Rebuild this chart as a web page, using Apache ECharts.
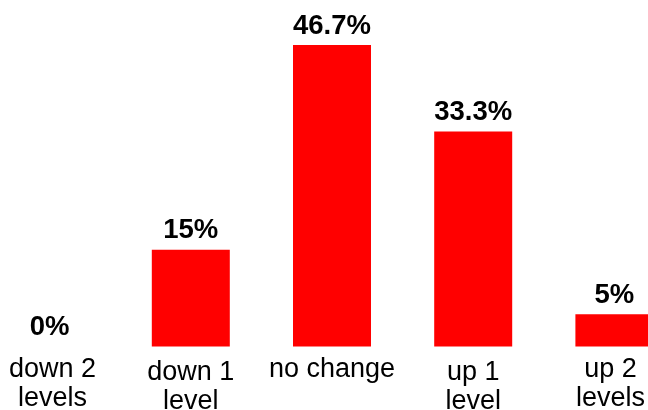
<!DOCTYPE html>
<html>
<head>
<meta charset="utf-8">
<script src="https://cdn.jsdelivr.net/npm/echarts@6/dist/echarts.min.js"></script>
<style>
html,body{margin:0;padding:0;background:#fff;}
#chart{width:648px;height:410px;}
</style>
</head>
<body>
<div id="chart"></div>
<script>
const categories = ['down 2\nlevels', 'down 1\nlevel', 'no change', 'up 1\nlevel', 'up 2\nlevels'];
const values = [0, 15, 46.7, 33.3, 5];
const valueLabels = ['0%', '15%', '46.7%', '33.3%', '5%'];
const labelPadding = [[0, 0, 0, 6], [3, 0, 0, 0], [0, 0, 0, 0], [3, 0, 0, 0], [0, 8, 0, 0]];

const chart = echarts.init(document.getElementById('chart'));
chart.setOption({
  animation: false,
  grid: { left: -21, width: 706, top: 23.7, height: 322.8, containLabel: false, outerBoundsMode: 'none' },
  xAxis: {
    type: 'category',
    data: categories.map((c, i) => ({ value: c, textStyle: { padding: labelPadding[i] } })),
    axisLine: { show: false },
    axisTick: { show: false },
    axisLabel: {
      interval: 0,
      margin: 9,
      fontFamily: 'Liberation Sans, Arial, sans-serif',
      fontSize: 27,
      lineHeight: 29,
      color: '#000'
    }
  },
  yAxis: {
    type: 'value',
    min: 0,
    max: 50,
    show: false,
    splitLine: { show: false }
  },
  series: [{
    type: 'bar',
    data: values,
    barWidth: 78,
    itemStyle: { color: '#ff0000' },
    label: {
      show: true,
      position: 'top',
      distance: 5,
      fontFamily: 'Liberation Sans, Arial, sans-serif',
      fontSize: 27.5,
      fontWeight: 'bold',
      color: '#000',
      formatter: p => valueLabels[p.dataIndex]
    }
  }]
});
</script>
</body>
</html>
